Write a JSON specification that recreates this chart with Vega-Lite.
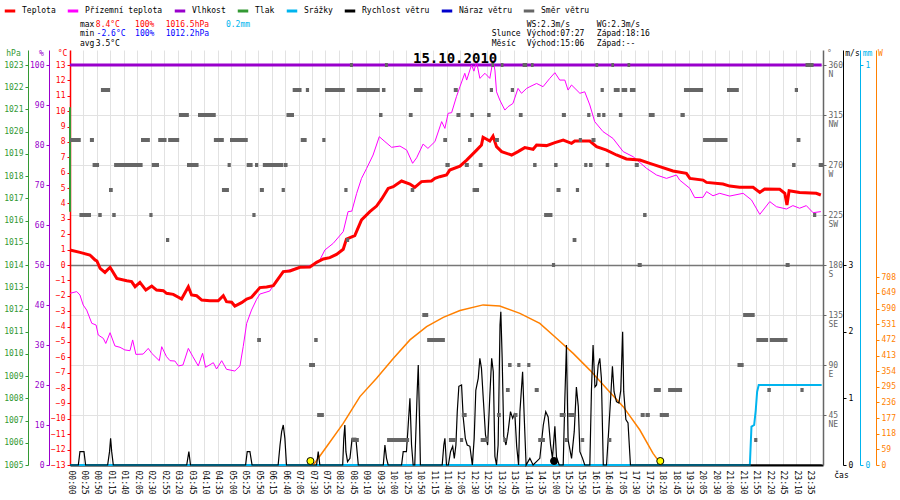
{
  "$schema": "https://vega.github.io/schema/vega-lite/v6.json",
  "description": "Meteo den 15.10.2010: teplota, přízemní teplota, vlhkost, tlak, srážky, vítr, slunce",
  "width": 753,
  "height": 415,
  "autosize": {"type": "none"},
  "padding": {"left": 70, "top": 50, "right": 77, "bottom": 35},
  "background": "white",
  "datasets": {
    "teplota": [
      {"i":0,"t":0.97},{"i":3.7,"t":0.82},{"i":7.4,"t":0.65},{"i":9.3,"t":0.33},{"i":10,"t":0.26},{"i":11.2,"t":-0.22},
      {"i":13,"t":-0.48},{"i":14.9,"t":-0.15},{"i":17.4,"t":-0.87},{"i":21.1,"t":-1.02},{"i":22.9,"t":-1.08},{"i":24.2,"t":-1.41},
      {"i":26,"t":-1.13},{"i":28.2,"t":-1.63},{"i":30.4,"t":-1.37},{"i":32.2,"t":-1.63},{"i":34.7,"t":-1.67},{"i":35.9,"t":-1.84},
      {"i":38.4,"t":-1.91},{"i":41.5,"t":-2.21},{"i":44,"t":-1.41},{"i":45.2,"t":-1.95},{"i":47.1,"t":-2.0},{"i":49,"t":-2.28},
      {"i":52,"t":-2.32},{"i":55.1,"t":-2.32},{"i":57,"t":-1.99},{"i":58.2,"t":-2.38},{"i":60.1,"t":-2.42},{"i":61.3,"t":-2.67},
      {"i":63.8,"t":-2.45},{"i":65.7,"t":-2.21},{"i":67.5,"t":-2.1},{"i":70.6,"t":-1.47},{"i":73.1,"t":-1.43},{"i":75.6,"t":-1.34},
      {"i":79.3,"t":-0.43},{"i":81.8,"t":-0.39},{"i":85.5,"t":-0.15},{"i":89.2,"t":-0.13},{"i":91.7,"t":0.17},{"i":94.2,"t":0.39},
      {"i":96.6,"t":0.48},{"i":99.1,"t":0.69},{"i":101.6,"t":1.02},{"i":102.8,"t":1.69},{"i":105.9,"t":1.91},{"i":108.4,"t":2.93},
      {"i":111.5,"t":3.47},{"i":114,"t":3.83},{"i":115.9,"t":4.29},{"i":118.3,"t":4.98},{"i":120.2,"t":5.09},{"i":123.3,"t":5.46},
      {"i":126.4,"t":5.26},{"i":128.2,"t":5.05},{"i":130.7,"t":5.42},{"i":134.4,"t":5.46},{"i":135.7,"t":5.63},{"i":137.5,"t":5.74},
      {"i":140,"t":5.85},{"i":141.2,"t":6.17},{"i":145,"t":6.43},{"i":147.5,"t":6.82},{"i":151.2,"t":7.47},{"i":153,"t":7.8},
      {"i":153.6,"t":8.3},{"i":156.1,"t":8.06},{"i":157.3,"t":8.38},{"i":158.6,"t":7.69},{"i":160.5,"t":7.37},{"i":164.2,"t":7.15},
      {"i":166.6,"t":7.37},{"i":169.1,"t":7.63},{"i":172.2,"t":7.52},{"i":173.5,"t":7.8},{"i":177.2,"t":7.76},{"i":180.3,"t":7.95},
      {"i":183.4,"t":8.12},{"i":186.5,"t":7.91},{"i":187.7,"t":8.06},{"i":193.3,"t":8.06},{"i":195.8,"t":7.69},{"i":199.5,"t":7.47},
      {"i":203.2,"t":7.15},{"i":206.9,"t":6.89},{"i":211.9,"t":6.82},{"i":215.6,"t":6.61},{"i":219.3,"t":6.39},{"i":224.2,"t":6.11},
      {"i":229.2,"t":5.96},{"i":230.5,"t":5.63},{"i":235.4,"t":5.52},{"i":236.7,"t":5.37},{"i":242.8,"t":5.26},{"i":245.3,"t":5.13},
      {"i":249,"t":5.05},{"i":254,"t":5.05},{"i":256.5,"t":4.72},{"i":258.3,"t":4.94},{"i":263.9,"t":4.92},{"i":265.8,"t":4.66},
      {"i":266.6,"t":3.9},{"i":267.4,"t":4.83},{"i":271.3,"t":4.72},{"i":277.5,"t":4.66},{"i":279.2,"t":4.55}
    ],
    "prizemni": [
      {"i":0,"t":-1.84},{"i":2.5,"t":-1.73},{"i":3.7,"t":-1.95},{"i":4.9,"t":-2.6},{"i":6.2,"t":-2.93},{"i":8.1,"t":-3.79},
      {"i":9.7,"t":-3.9},{"i":10.5,"t":-4.55},{"i":12.4,"t":-4.77},{"i":13.3,"t":-5.1},{"i":14.9,"t":-4.4},{"i":16.7,"t":-5.26},
      {"i":18.6,"t":-5.35},{"i":20.4,"t":-5.52},{"i":22.3,"t":-5.57},{"i":23.3,"t":-4.87},{"i":24.5,"t":-5.81},{"i":27.2,"t":-5.79},
      {"i":29.1,"t":-5.42},{"i":30.4,"t":-5.74},{"i":33.2,"t":-6.22},{"i":34.1,"t":-5.31},{"i":35.9,"t":-5.96},{"i":37.2,"t":-6.22},
      {"i":39,"t":-6.24},{"i":40.3,"t":-6.56},{"i":42,"t":-6.5},{"i":44,"t":-5.42},{"i":45.7,"t":-5.96},{"i":47.7,"t":-6.56},
      {"i":49.3,"t":-5.74},{"i":50.4,"t":-6.65},{"i":53.3,"t":-6.35},{"i":54.5,"t":-6.76},{"i":56.4,"t":-6.22},{"i":58.2,"t":-6.78},
      {"i":61.3,"t":-6.89},{"i":63.2,"t":-6.56},{"i":64.4,"t":-5.31},{"i":65.7,"t":-3.79},{"i":67.5,"t":-2.93},{"i":69.4,"t":-2.23},
      {"i":70.6,"t":-1.89},{"i":74.3,"t":-1.69},{"i":76.8,"t":-0.98},{"i":79.3,"t":-0.43},{"i":85.5,"t":-0.13},{"i":90.4,"t":-0.04},
      {"i":92.9,"t":0.33},{"i":94.8,"t":0.98},{"i":97.9,"t":1.41},{"i":101.6,"t":2.17},{"i":103.4,"t":3.47},{"i":104.8,"t":3.5},
      {"i":106.6,"t":4.66},{"i":108.4,"t":5.63},{"i":110.3,"t":6.28},{"i":112.7,"t":7.15},{"i":115,"t":8.34},{"i":117.1,"t":8.02},
      {"i":119.6,"t":7.65},{"i":122.7,"t":7.73},{"i":125.2,"t":7.47},{"i":127.4,"t":6.61},{"i":128.9,"t":6.97},{"i":131.3,"t":7.86},
      {"i":133.1,"t":7.58},{"i":135.7,"t":8.02},{"i":138.2,"t":9.32},{"i":139.4,"t":8.88},{"i":140.6,"t":9.86},{"i":141.9,"t":9.9},
      {"i":143.7,"t":10.94},{"i":145,"t":11.59},{"i":146.8,"t":12.46},{"i":147.5,"t":12.02},{"i":149.3,"t":13.0},{"i":150.2,"t":12.6},
      {"i":151.2,"t":13.2},{"i":152.4,"t":12.13},{"i":154.3,"t":12.46},{"i":156.1,"t":12.13},{"i":157.3,"t":13.3},{"i":158,"t":12.67},
      {"i":158.6,"t":11.26},{"i":159.8,"t":10.73},{"i":161.7,"t":10.07},{"i":162.9,"t":10.29},{"i":164.7,"t":10.5},{"i":166.6,"t":11.48},
      {"i":167.9,"t":11.16},{"i":169.8,"t":11.48},{"i":171,"t":11.59},{"i":173.5,"t":11.8},{"i":175.9,"t":11.59},{"i":178.4,"t":12.13},
      {"i":180.3,"t":12.5},{"i":182.1,"t":12.02},{"i":184,"t":12.02},{"i":185.2,"t":11.37},{"i":186.5,"t":11.7},{"i":189.6,"t":11.16},
      {"i":191.4,"t":11.26},{"i":193.3,"t":10.4},{"i":195.1,"t":9.32},{"i":198.2,"t":8.67},{"i":201.9,"t":8.23},{"i":205.7,"t":7.37},
      {"i":209.4,"t":7.04},{"i":214.4,"t":6.28},{"i":218.1,"t":5.85},{"i":221.8,"t":5.63},{"i":225.5,"t":5.85},{"i":226.7,"t":5.52},
      {"i":230.5,"t":4.98},{"i":232.3,"t":4.38},{"i":235.4,"t":4.4},{"i":236.7,"t":4.77},{"i":239.1,"t":4.5},{"i":241.6,"t":4.66},
      {"i":245.3,"t":4.48},{"i":250.3,"t":4.66},{"i":253.4,"t":4.23},{"i":256.5,"t":3.29},{"i":260.2,"t":4.12},{"i":262.7,"t":3.79},
      {"i":266.4,"t":3.64},{"i":268.8,"t":3.86},{"i":271.3,"t":3.69},{"i":273.8,"t":3.86},{"i":276.3,"t":3.4},{"i":279.2,"t":3.47}
    ],
    "vlhkost": [{"i":0,"h":100},{"i":279.5,"h":100}],
    "tlak": [{"i":0,"p":1016.4,"p2":1021.1}],
    "srazky": [
      {"i":0,"mm":0},{"i":252.8,"mm":0},{"i":253.4,"mm":0.096},{"i":254.4,"mm":0.1},{"i":255,"mm":0.1375},
      {"i":255.5,"mm":0.183},{"i":256.1,"mm":0.2},{"i":279.5,"mm":0.2}
    ],
    "slunce": [
      {"i":90.5,"w":0},{"i":95.4,"w":69},{"i":101.6,"w":157},{"i":107.8,"w":258},{"i":114,"w":327},{"i":120.2,"w":402},
      {"i":126.4,"w":472},{"i":132.6,"w":522},{"i":138.8,"w":557},{"i":145,"w":583},{"i":153.6,"w":604},{"i":159.8,"w":600},
      {"i":167.3,"w":572},{"i":174.7,"w":534},{"i":180.9,"w":478},{"i":187.1,"w":421},{"i":193.3,"w":358},{"i":199.5,"w":289},
      {"i":205.7,"w":220},{"i":211.9,"w":132},{"i":216.8,"w":44},{"i":219.3,"w":9},{"i":220,"w":0}
    ],
    "vitr": [
      {"i":0,"v":0},{"i":3.1,"v":0},{"i":3.7,"v":0.2},{"i":5.2,"v":0.2},{"i":5.8,"v":0},{"i":14,"v":0},{"i":14.7,"v":0.2},
      {"i":15.1,"v":0.4},{"i":15.5,"v":0.2},{"i":16.1,"v":0},{"i":43.4,"v":0},{"i":44.2,"v":0.2},{"i":44.8,"v":0},{"i":65.3,"v":0},
      {"i":65.9,"v":0.2},{"i":66.9,"v":0.2},{"i":67.7,"v":0},{"i":77.4,"v":0},{"i":78.1,"v":0.3},{"i":78.7,"v":0.5},{"i":79.3,"v":0.6},
      {"i":79.9,"v":0.4},{"i":80.5,"v":0},{"i":91.7,"v":0},{"i":92.3,"v":0.2},{"i":92.9,"v":0},{"i":101.4,"v":0},{"i":101.8,"v":0.4},
      {"i":102.2,"v":0.6},{"i":102.6,"v":0.2},{"i":103.2,"v":0.05},{"i":104.1,"v":0.1},{"i":104.9,"v":0.4},{"i":106.3,"v":0.4},
      {"i":107.2,"v":0},{"i":116.5,"v":0},{"i":117.1,"v":0.3},{"i":117.7,"v":0.1},{"i":118.3,"v":0},{"i":123.3,"v":0},{"i":123.9,"v":0.2},
      {"i":125.1,"v":0.2},{"i":125.6,"v":0.5},{"i":126.4,"v":1.0},{"i":127,"v":0.3},{"i":127.6,"v":0},{"i":128.2,"v":0},{"i":128.7,"v":0.6},
      {"i":129.1,"v":1.1},{"i":129.5,"v":1.5},{"i":129.9,"v":0.8},{"i":130.3,"v":0},{"i":138.4,"v":0},{"i":139,"v":0.3},{"i":139.4,"v":0.4},
      {"i":140,"v":0},{"i":140.7,"v":0},{"i":141.5,"v":0.2},{"i":142.3,"v":0.28},{"i":142.9,"v":0.1},{"i":143.5,"v":0.3},{"i":144,"v":0.8},
      {"i":144.6,"v":1.18},{"i":145.6,"v":1.2},{"i":146.2,"v":0.72},{"i":147,"v":0.4},{"i":147.7,"v":0.3},{"i":148.7,"v":0.28},
      {"i":149.6,"v":0},{"i":150.3,"v":0.4},{"i":150.9,"v":1.12},{"i":151.8,"v":1.3},{"i":152.4,"v":1.6},{"i":153,"v":1.45},
      {"i":153.7,"v":0.98},{"i":154.5,"v":0.45},{"i":155.3,"v":0.3},{"i":156.1,"v":1.03},{"i":156.8,"v":1.6},{"i":157.4,"v":1.4},
      {"i":158,"v":0.13},{"i":158.6,"v":0},{"i":159.2,"v":0.3},{"i":159.9,"v":2.1},{"i":160.2,"v":2.3},{"i":160.7,"v":1.6},
      {"i":161.3,"v":0.43},{"i":162.1,"v":0.3},{"i":162.9,"v":0.5},{"i":163.8,"v":0.8},{"i":164.6,"v":0.7},{"i":165.4,"v":0.78},
      {"i":166.1,"v":0.28},{"i":166.8,"v":0},{"i":167.3,"v":0.8},{"i":168.3,"v":1.4},{"i":168.9,"v":0.72},{"i":169.6,"v":0},
      {"i":171,"v":0.1},{"i":172.2,"v":0},{"i":174.7,"v":0.1},{"i":176,"v":0.6},{"i":176.9,"v":0.8},{"i":177.8,"v":0.72},
      {"i":178.7,"v":0.3},{"i":179.4,"v":0.1},{"i":180.3,"v":0.58},{"i":180.9,"v":0.12},{"i":181.9,"v":0},{"i":183.4,"v":0},
      {"i":184,"v":0.98},{"i":184.6,"v":1.8},{"i":185.2,"v":0.38},{"i":186.5,"v":0.1},{"i":187.5,"v":0.5},{"i":188.3,"v":1.17},
      {"i":189,"v":0.88},{"i":189.6,"v":0.2},{"i":190.6,"v":0.1},{"i":191.4,"v":0},{"i":193.3,"v":0},{"i":193.9,"v":1.12},
      {"i":194.5,"v":1.8},{"i":195.2,"v":1.17},{"i":195.8,"v":1.2},{"i":196.4,"v":1.5},{"i":197,"v":1.6},{"i":197.6,"v":1.3},
      {"i":198.3,"v":0},{"i":199.5,"v":0},{"i":200.1,"v":0.38},{"i":201,"v":0.98},{"i":201.7,"v":1.48},{"i":202.3,"v":1.1},
      {"i":203.2,"v":0.95},{"i":204.1,"v":0.93},{"i":204.8,"v":1.12},{"i":205.5,"v":2.0},{"i":205.9,"v":1.1},{"i":206.7,"v":0.68},
      {"i":207.5,"v":0.63},{"i":208.4,"v":0},{"i":279.5,"v":0}
    ],
    "smer": [
      {"i":104.1,"i2":105.2,"d":360},{"i":117.1,"i2":118.2,"d":360},{"i":156.7,"i2":157.7,"d":360},{"i":160.2,"i2":161.2,"d":360},
      {"i":168.3,"i2":170,"d":360},{"i":171.4,"i2":172.4,"d":360},{"i":195.4,"i2":196.4,"d":360},{"i":201.3,"i2":202.3,"d":360},
      {"i":207.3,"i2":208.3,"d":360},{"i":273.5,"i2":276.5,"d":360},
      {"i":11.5,"i2":14.9,"d":337.5},{"i":82.8,"i2":86.1,"d":337.5},{"i":87.7,"i2":88.9,"d":337.5},{"i":94.8,"i2":102.2,"d":337.5},
      {"i":106.6,"i2":115.2,"d":337.5},{"i":116,"i2":117.3,"d":337.5},{"i":127.9,"i2":131.1,"d":337.5},{"i":142.7,"i2":144.2,"d":337.5},
      {"i":156.1,"i2":157.3,"d":337.5},{"i":163.9,"i2":165.1,"d":337.5},{"i":197.3,"i2":198.5,"d":337.5},{"i":202.2,"i2":204.4,"d":337.5},
      {"i":205.1,"i2":207.2,"d":337.5},{"i":208.2,"i2":210.3,"d":337.5},{"i":228.3,"i2":235.4,"d":337.5},{"i":244.3,"i2":248.7,"d":337.5},
      {"i":269.5,"i2":270.7,"d":337.5},
      {"i":40.5,"i2":44.2,"d":315},{"i":47.6,"i2":54.2,"d":315},{"i":80.5,"i2":83.3,"d":315},{"i":114.9,"i2":116.2,"d":315},
      {"i":126,"i2":127.4,"d":315},{"i":143.7,"i2":145.2,"d":315},{"i":148.9,"i2":150.2,"d":315},{"i":155.1,"i2":156.4,"d":315},
      {"i":166.9,"i2":168.3,"d":315},{"i":182.9,"i2":184.4,"d":315},{"i":192.3,"i2":193.5,"d":315},{"i":196,"i2":197.3,"d":315},
      {"i":197.9,"i2":199.1,"d":315},{"i":204.1,"i2":205.4,"d":315},{"i":215.2,"i2":217.4,"d":315},{"i":227,"i2":228.6,"d":315},
      {"i":0,"i2":4,"d":292.5},{"i":7.4,"i2":8.9,"d":292.5},{"i":26.4,"i2":29.7,"d":292.5},{"i":32.8,"i2":35.9,"d":292.5},
      {"i":36.5,"i2":40.6,"d":292.5},{"i":53.5,"i2":57.2,"d":292.5},{"i":59.5,"i2":66.1,"d":292.5},{"i":85.8,"i2":88,"d":292.5},
      {"i":93.8,"i2":95,"d":292.5},{"i":138.8,"i2":140.2,"d":292.5},{"i":148,"i2":149.3,"d":292.5},{"i":158,"i2":159.5,"d":292.5},
      {"i":189.2,"i2":190.4,"d":292.5},{"i":193.9,"i2":195.4,"d":292.5},{"i":235.4,"i2":244.5,"d":292.5},{"i":270.2,"i2":271.6,"d":292.5},
      {"i":8.4,"i2":10.8,"d":270},{"i":16.4,"i2":27,"d":270},{"i":30.4,"i2":33.1,"d":270},{"i":43.5,"i2":47.8,"d":270},
      {"i":58.6,"i2":59.8,"d":270},{"i":65.7,"i2":67.9,"d":270},{"i":68.8,"i2":70,"d":270},{"i":71.7,"i2":79.3,"d":270},
      {"i":79.5,"i2":80.9,"d":270},{"i":139.6,"i2":141.2,"d":270},{"i":146.8,"i2":148.3,"d":270},{"i":152,"i2":153.4,"d":270},
      {"i":172.2,"i2":173.5,"d":270},{"i":180,"i2":181.3,"d":270},{"i":191.2,"i2":192.4,"d":270},{"i":193,"i2":194.3,"d":270},
      {"i":199.2,"i2":200.5,"d":270},{"i":210,"i2":211.5,"d":270},{"i":268.5,"i2":269.8,"d":270},{"i":278.4,"i2":280,"d":270},
      {"i":14.5,"i2":15.9,"d":247.5},{"i":56.5,"i2":59.1,"d":247.5},{"i":70.6,"i2":72.1,"d":247.5},{"i":78.7,"i2":79.9,"d":247.5},
      {"i":102,"i2":103.2,"d":247.5},{"i":126.7,"i2":128,"d":247.5},{"i":149.7,"i2":152.1,"d":247.5},{"i":180.9,"i2":182.4,"d":247.5},
      {"i":188.1,"i2":189.3,"d":247.5},
      {"i":3.5,"i2":7.8,"d":225},{"i":10.5,"i2":11.8,"d":225},{"i":15.7,"i2":17,"d":225},{"i":29.5,"i2":30.7,"d":225},
      {"i":67.8,"i2":69,"d":225},{"i":176.3,"i2":179.4,"d":225},{"i":213.1,"i2":214.4,"d":225},{"i":276.3,"i2":277.5,"d":225},
      {"i":35.7,"i2":36.9,"d":202.5},{"i":102.6,"i2":103.8,"d":202.5},{"i":186.9,"i2":188.3,"d":202.5},
      {"i":179.2,"i2":180.4,"d":180},{"i":211.1,"i2":212.6,"d":180},{"i":266.1,"i2":267.6,"d":180},
      {"i":131,"i2":133.2,"d":135},{"i":250.3,"i2":254.6,"d":135},
      {"i":69.6,"i2":71,"d":112.5},{"i":90.8,"i2":92.1,"d":112.5},{"i":132.8,"i2":139.4,"d":112.5},{"i":255.2,"i2":259.6,"d":112.5},
      {"i":260.2,"i2":266.8,"d":112.5},
      {"i":88.9,"i2":91.1,"d":90},{"i":162.9,"i2":164.2,"d":90},{"i":166.3,"i2":167.5,"d":90},{"i":170,"i2":171.2,"d":90},
      {"i":248.2,"i2":250.5,"d":90},
      {"i":162.1,"i2":163.5,"d":67.5},{"i":172.8,"i2":174.3,"d":67.5},{"i":217.1,"i2":219.7,"d":67.5},{"i":222.4,"i2":227.6,"d":67.5},
      {"i":259.3,"i2":260.6,"d":67.5},{"i":271.6,"i2":272.8,"d":67.5},
      {"i":91.9,"i2":94.4,"d":45},{"i":145.7,"i2":147.5,"d":45},{"i":158.8,"i2":160.2,"d":45},{"i":165,"i2":166.4,"d":45},
      {"i":182.1,"i2":184.3,"d":45},{"i":185.2,"i2":187.7,"d":45},{"i":212.2,"i2":213.7,"d":45},{"i":214,"i2":215.6,"d":45},
      {"i":219.3,"i2":222.7,"d":45},
      {"i":104.8,"i2":107.4,"d":22.5},{"i":117.9,"i2":126.1,"d":22.5},{"i":140.9,"i2":143.4,"d":22.5},{"i":145,"i2":146.2,"d":22.5},
      {"i":152.7,"i2":155.5,"d":22.5},{"i":161.1,"i2":162.3,"d":22.5},{"i":174.1,"i2":176.6,"d":22.5},{"i":184,"i2":185.2,"d":22.5},
      {"i":189.9,"i2":191.2,"d":22.5},{"i":199.9,"i2":201.3,"d":22.5},{"i":254.4,"i2":255.6,"d":22.5}
    ],
    "astro": [
      {"i":89.4,"kind":"sun"},{"i":219.5,"kind":"sun"},{"i":180,"kind":"moon"}
    ],
    "datum": [{"i":143.2,"row":4.98,"text":"15.10.2010"}],
    "hlavicka": [
      {"i":3.7,"row":1,"text":"max","kind":"label"},
      {"i":9.6,"row":1,"text":"8.4°C","kind":"max"},
      {"i":24.2,"row":1,"text":"100%","kind":"max"},
      {"i":35.6,"row":1,"text":"1016.5hPa","kind":"max"},
      {"i":58,"row":1,"text":"0.2mm","kind":"rain"},
      {"i":3.7,"row":2,"text":"min","kind":"label"},
      {"i":9.9,"row":2,"text":"-2.6°C","kind":"min"},
      {"i":24.2,"row":2,"text":"100%","kind":"min"},
      {"i":35.6,"row":2,"text":"1012.2hPa","kind":"min"},
      {"i":3.7,"row":3,"text":"avg","kind":"label"},
      {"i":9.6,"row":3,"text":"3.5°C","kind":"label"},
      {"i":169.8,"row":1,"text":"WS:2.3m/s","kind":"label"},
      {"i":195.9,"row":1,"text":"WG:2.3m/s","kind":"label"},
      {"i":156.8,"row":2,"text":"Slunce","kind":"label"},
      {"i":169.8,"row":2,"text":"Východ:07:27","kind":"label"},
      {"i":195.9,"row":2,"text":"Západ:18:16","kind":"label"},
      {"i":156.8,"row":3,"text":"Měsíc","kind":"label"},
      {"i":169.8,"row":3,"text":"Východ:15:06","kind":"label"},
      {"i":195.9,"row":3,"text":"Západ:--","kind":"label"}
    ]
  },
  "encoding": {
    "x": {
      "field": "i",
      "type": "quantitative",
      "scale": {"domain": [0, 280], "nice": false, "zero": false},
      "axis": {
        "values": [0,5,10,15,20,25,30,35,40,45,50,55,60,65,70,75,80,85,90,95,100,105,110,115,120,125,130,135,140,145,150,155,160,165,170,175,180,185,190,195,200,205,210,215,220,225,230,235,240,245,250,255,260,265,270,275],
        "labelExpr": "['00:00','00:25','00:50','01:15','01:40','02:05','02:30','02:55','03:20','03:45','04:10','04:35','05:00','05:25','05:50','06:15','06:40','07:05','07:30','07:55','08:20','08:45','09:10','09:35','10:00','10:25','10:50','11:15','11:40','12:05','12:30','12:55','13:20','13:45','14:10','14:35','15:00','15:25','15:50','16:15','16:40','17:05','17:30','17:55','18:20','18:45','19:35','20:05','20:30','21:00','21:30','21:55','22:20','22:45','23:10','23:35'][round(datum.value/5)]",
        "labelAngle": 90,
        "labelAlign": "left",
        "labelBaseline": "middle",
        "labelPadding": 5,
        "labelColor": "#000000",
        "ticks": false,
        "grid": true,
        "gridColor": "#e2e2e2",
        "gridWidth": 1,
        "domainColor": "#000000",
        "domainWidth": 2,
        "title": "čas",
        "titleX": 771,
        "titleY": 10,
        "titleColor": "#000000"
      }
    }
  },
  "layer": [
    {
      "data": {"name": "tlak"},
      "mark": {"type": "rule", "color": "#339933", "strokeWidth": 2},
      "encoding": {
        "y": {
          "field": "p", "type": "quantitative",
          "scale": {"domain": [1005, 1023.675], "nice": false, "zero": false},
          "axis": {
            "orient": "left", "offset": 42, "format": "d",
            "values": [1005,1006,1007,1008,1009,1010,1011,1012,1013,1014,1015,1016,1017,1018,1019,1020,1021,1022,1023],
            "title": "hPa", "titleX": -15,
            "titleColor": "#339933", "labelColor": "#339933", "tickColor": "#339933", "domainColor": "#339933"
          }
        },
        "y2": {"field": "p2"}
      }
    },
    {
      "data": {"name": "vlhkost"},
      "mark": {"type": "line", "color": "#9900cc", "strokeWidth": 3},
      "encoding": {
        "y": {
          "field": "h", "type": "quantitative",
          "scale": {"domain": [0, 103.75], "nice": false},
          "axis": {
            "orient": "left", "offset": 21, "format": "d",
            "values": [0,10,20,30,40,50,60,70,80,90,100],
            "title": "%", "titleX": -8,
            "titleColor": "#9900cc", "labelColor": "#9900cc", "tickColor": "#9900cc", "domainColor": "#9900cc"
          }
        }
      }
    },
    {
      "data": {"name": "srazky"},
      "mark": {"type": "line", "color": "#00b4ee", "strokeWidth": 2},
      "encoding": {
        "y": {
          "field": "mm", "type": "quantitative",
          "scale": {"domain": [0, 1.0375], "nice": false},
          "axis": {
            "orient": "right", "offset": 37, "format": "d",
            "values": [0, 1],
            "title": "mm", "titleX": 7,
            "titleColor": "#00b4ee", "labelColor": "#00b4ee", "tickColor": "#00b4ee", "domainColor": "#00b4ee"
          }
        }
      }
    },
    {
      "data": {"name": "slunce"},
      "mark": {"type": "line", "color": "#ff8000", "strokeWidth": 1.5},
      "encoding": {
        "y": {
          "field": "w", "type": "quantitative",
          "scale": {"domain": [0, 1565.6], "nice": false},
          "axis": {
            "orient": "right", "offset": 53, "format": "d",
            "values": [0,59,118,177,236,295,354,413,472,531,590,649,708],
            "title": "W", "titleX": 4,
            "titleColor": "#ff8000", "labelColor": "#ff8000", "tickColor": "#ff8000", "domainColor": "#ff8000"
          }
        }
      }
    },
    {
      "data": {"name": "vitr"},
      "mark": {"type": "line", "color": "#000000", "strokeWidth": 1.2},
      "encoding": {
        "y": {
          "field": "v", "type": "quantitative",
          "scale": {"domain": [0, 6.225], "nice": false},
          "axis": {
            "orient": "right", "offset": 20, "format": "d",
            "values": [0, 1, 2, 3],
            "title": "m/s", "titleX": 9,
            "titleColor": "#000000", "labelColor": "#000000", "tickColor": "#000000", "domainColor": "#000000"
          }
        }
      }
    },
    {
      "data": {"name": "prizemni"},
      "mark": {"type": "line", "strokeWidth": 1},
      "encoding": {
        "y": {
          "field": "t", "type": "quantitative",
          "scale": {"domain": [-13, 13.975], "nice": false, "zero": false},
          "axis": null
        },
        "color": {
          "datum": "Přízemní teplota",
          "scale": {
            "domain": ["Teplota", "Přízemní teplota", "Vlhkost", "Tlak", "Srážky", "Rychlost větru", "Náraz větru", "Směr větru"],
            "range": ["#ff0000", "#ff00ff", "#9900cc", "#339933", "#00b4ee", "#000000", "#0000cc", "#666666"]
          },
          "legend": {"title": null}
        }
      }
    },
    {
      "data": {"name": "teplota"},
      "mark": {"type": "line", "strokeWidth": 3},
      "encoding": {
        "y": {
          "field": "t", "type": "quantitative",
          "scale": {"domain": [-13, 13.975], "nice": false, "zero": false},
          "axis": {
            "orient": "left", "offset": 0, "format": "d",
            "values": [-13,-12,-11,-10,-9,-8,-7,-6,-5,-4,-3,-2,-1,0,1,2,3,4,5,6,7,8,9,10,11,12,13],
            "title": "°C", "titleX": -8,
            "titleColor": "#ff0000", "labelColor": "#ff0000", "tickColor": "#ff0000", "domainColor": "#ff0000", "domainWidth": 1.5
          }
        },
        "color": {
          "datum": "Teplota",
          "scale": {
            "domain": ["Teplota", "Přízemní teplota", "Vlhkost", "Tlak", "Srážky", "Rychlost větru", "Náraz větru", "Směr větru"],
            "range": ["#ff0000", "#ff00ff", "#9900cc", "#339933", "#00b4ee", "#000000", "#0000cc", "#666666"]
          },
          "legend": {"title": null}
        }
      }
    },
    {
      "data": {"name": "smer"},
      "mark": {"type": "rule", "color": "#666666", "strokeWidth": 4, "strokeCap": "butt"},
      "encoding": {
        "x2": {"field": "i2"},
        "y": {
          "field": "d", "type": "quantitative",
          "scale": {"domain": [0, 373.5], "nice": false},
          "axis": {
            "orient": "right", "offset": 0,
            "values": [45, 90, 135, 180, 225, 270, 315, 360],
            "labelExpr": "datum.value == 360 ? ['360','N'] : datum.value == 315 ? ['315','NW'] : datum.value == 270 ? ['270','W'] : datum.value == 225 ? ['225','SW'] : datum.value == 180 ? ['180','S'] : datum.value == 135 ? ['135','SE'] : datum.value == 90 ? ['90','E'] : ['45','NE']",
            "labelBaseline": "top",
            "labelOffset": -4,
            "labelLineHeight": 9,
            "grid": true,
            "gridColor": {"condition": {"test": "datum.value === 180", "value": "#777777"}, "value": "#e2e2e2"},
            "gridWidth": {"condition": {"test": "datum.value === 180", "value": 1.5}, "value": 1},
            "title": "°", "titleX": 6,
            "titleColor": "#666666", "labelColor": "#666666", "tickColor": "#666666", "domainColor": "#666666", "domainWidth": 1.5
          }
        }
      }
    },
    {
      "data": {"name": "astro"},
      "mark": {"type": "circle", "size": 50, "stroke": "#000000", "strokeWidth": 1, "opacity": 1},
      "encoding": {
        "y": {"datum": 15, "type": "quantitative", "scale": {"domain": [0, 1565.6], "nice": false}, "axis": null},
        "fill": {
          "field": "kind", "type": "nominal",
          "scale": {"domain": ["sun", "moon"], "range": ["#ffff00", "#000000"]},
          "legend": null
        }
      }
    },
    {
      "data": {"name": "hlavicka"},
      "mark": {"type": "text", "align": "left", "baseline": "middle", "font": "DejaVu Sans Mono", "fontSize": 8},
      "encoding": {
        "y": {
          "field": "row", "type": "quantitative",
          "scale": {"domain": [3.663, 47.347], "reverse": true, "nice": false, "zero": false},
          "axis": null
        },
        "text": {"field": "text"},
        "fill": {
          "field": "kind", "type": "nominal",
          "scale": {"domain": ["label", "max", "min", "rain"], "range": ["#000000", "#ff0000", "#0000ff", "#00b4ee"]},
          "legend": null
        }
      }
    },
    {
      "data": {"name": "datum"},
      "mark": {"type": "text", "align": "center", "baseline": "alphabetic", "font": "DejaVu Sans Mono", "fontSize": 14, "fontWeight": "bold", "color": "#000000"},
      "encoding": {
        "y": {
          "field": "row", "type": "quantitative",
          "scale": {"domain": [3.663, 47.347], "reverse": true, "nice": false, "zero": false},
          "axis": null
        },
        "text": {"field": "text"}
      }
    }
  ],
  "resolve": {"scale": {"y": "independent", "fill": "independent"}},
  "config": {
    "view": {"stroke": null},
    "font": "DejaVu Sans Mono",
    "axis": {
      "labelFont": "DejaVu Sans Mono",
      "labelFontSize": 8,
      "labelOverlap": false,
      "labelFlush": false,
      "labelPadding": 2,
      "tickSize": 3,
      "grid": false,
      "titleFont": "DejaVu Sans Mono",
      "titleFontSize": 8,
      "titleFontWeight": "normal",
      "titleAngle": 0,
      "titleAlign": "center",
      "titleBaseline": "middle",
      "titleY": 3
    },
    "legend": {
      "orient": "none",
      "legendX": -67,
      "legendY": -46,
      "direction": "horizontal",
      "symbolType": "stroke",
      "symbolStrokeWidth": 3,
      "symbolSize": 110,
      "labelFont": "DejaVu Sans Mono",
      "labelFontSize": 8,
      "labelColor": "#000000",
      "labelOffset": 5,
      "columnPadding": 5
    }
  }
}
